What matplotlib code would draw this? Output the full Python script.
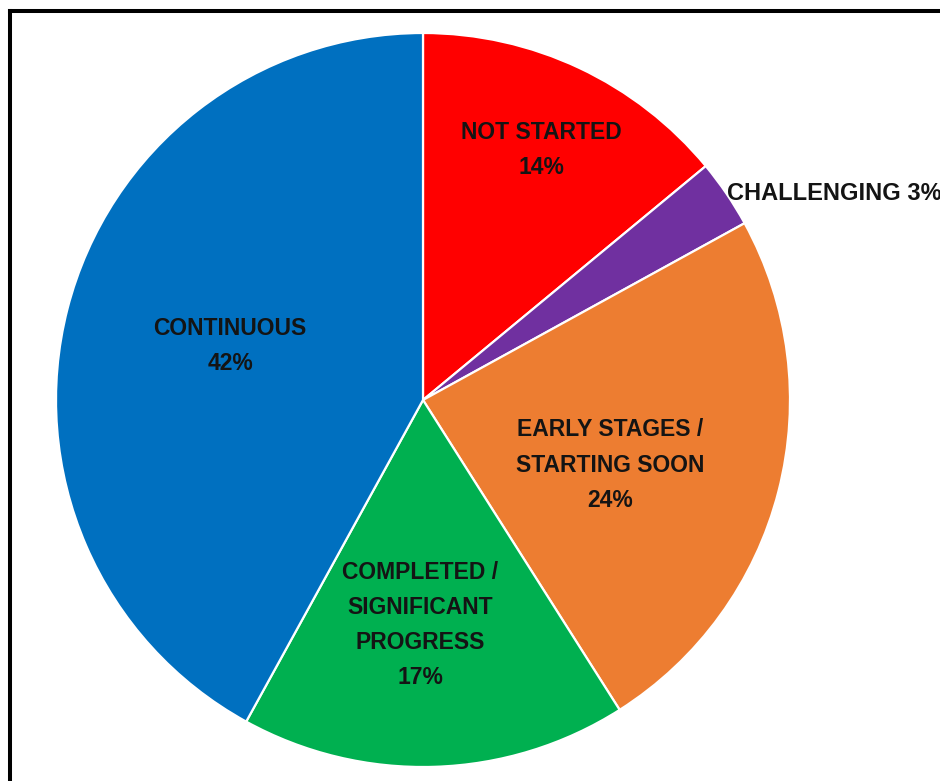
import matplotlib
matplotlib.use("Agg")
import matplotlib.pyplot as plt

# Status breakdown, listed clockwise from 12 o'clock
categories = ["NOT STARTED", "CHALLENGING", "EARLY STAGES /\nSTARTING SOON",
              "COMPLETED /\nSIGNIFICANT\nPROGRESS", "CONTINUOUS"]
shares = [14, 3, 24, 17, 42]
colors = ["#FF0000", "#7030A0", "#ED7D31", "#00B050", "#0070C0"]

W, H = 940, 781
fig = plt.figure(figsize=(W / 100, H / 100), dpi=100)
ax = fig.add_axes([0, 0, 1, 1])


def img_y(y):
    """Convert a top-down pixel row into the upward data axis."""
    return H - y


cx, cy, r = 423, img_y(400), 367
wedges, _ = ax.pie(shares, colors=colors, startangle=90, counterclock=False,
                   center=(cx, cy), radius=r, frame=True,
                   wedgeprops=dict(edgecolor="white", linewidth=1.6))
ax.set_xlim(0, W)
ax.set_ylim(0, H)
ax.set_aspect("equal")
ax.axis("off")

font = dict(family=["Liberation Sans", "DejaVu Sans"], fontweight="bold",
            fontsize=16.5, color="#141414")

# Label anchors (pixel positions, top-down) for each slice
anchors = [(541, 150, "center"), (727, 193, "left"), (610, 465, "center"),
           (420, 625, "center"), (230, 346, "center")]
for name, pct, (x, y, ha) in zip(categories, shares, anchors):
    if ha == "left":
        txt = f"{name} {pct}%"
        size = 17
    else:
        txt = f"{name}\n{pct}%"
        size = 16.5
    ax.text(x, img_y(y), txt, ha=ha, va="center", multialignment="center",
            linespacing=1.68, **{**font, "fontsize": size})

# Black frame along the top and left edges
ax.plot([10, 10], [img_y(11), -10], color="black", lw=2.9,
        solid_capstyle="projecting", clip_on=False)
ax.plot([10, W + 10], [img_y(11), img_y(11)], color="black", lw=2.9,
        solid_capstyle="projecting", clip_on=False)

fig.savefig("out.png", dpi=100, facecolor="white")
